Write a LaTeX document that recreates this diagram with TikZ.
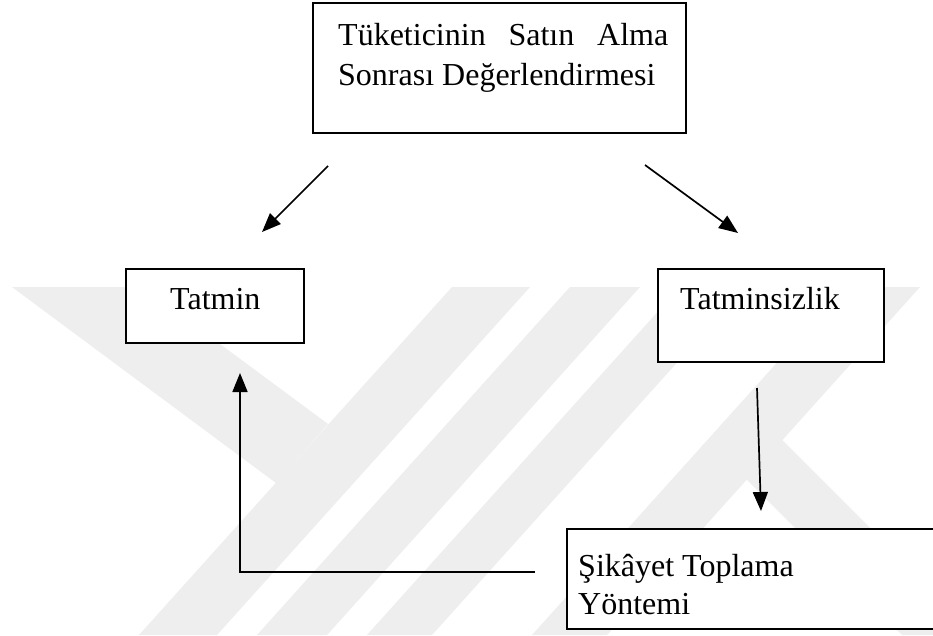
\documentclass[tikz,border=0pt]{standalone}
\usepackage{fontspec}
\setmainfont{Liberation Serif}
\usetikzlibrary{arrows.meta}

\definecolor{mark}{gray}{0.935}

\tikzset{
  box/.style={draw=black, line width=2pt, fill=white, inner sep=0pt},
  spot/.style={inner sep=0pt},
  rim/.style={draw=black, line width=2pt},
  label/.style={inner sep=0pt, anchor=base west, font=\fontsize{32}{40}\selectfont},
  link/.style={draw=black, line width=1.7pt, -{Triangle[length=19pt,width=15pt]}},
  stripe/.style={fill=mark, draw=none}
}

\begin{document}
\begin{tikzpicture}[x=1pt, y=-1pt]
  \useasboundingbox (0,0) rectangle (933,635);
  \fill[white] (0,0) rectangle (933,635);

  % faint background emblem made of slanted stripes
  \begin{scope}
    \clip (0,287) rectangle (933,635);
    \fill[stripe] (12,287) -- (143,287) -- (328,424) -- (276,483) -- cycle;
    \fill[stripe] (452,287) -- (530,287) -- (217,635) -- (139,635) -- cycle;
    \fill[stripe] (570,287) -- (640,287) -- (327,635) -- (257,635) -- cycle;
    \fill[stripe] (680,287) -- (745,287) -- (432,635) -- (367,635) -- cycle;
    \fill[stripe] (845,287) -- (920,287) -- (607,635) -- (532,635) -- cycle;
    \fill[stripe] (782,440) -- (977,635) -- (902,635) -- (746.6,479.6) -- cycle;
  \end{scope}

  % boxes
  \node[box, minimum width=373pt, minimum height=130pt] (top) at (499.5,68) {};
  \node[box, minimum width=178pt, minimum height=74pt] (sat) at (215,306) {};
  \node[box, minimum width=226pt, minimum height=93pt] (unsat) at (771,315.5) {};

  % the lower box runs off the right edge: only its top, left and bottom sides show
  \coordinate (compNW) at (567,529);
  \coordinate (compSW) at (567,629);
  \coordinate (compNE) at (933,529);
  \coordinate (compSE) at (933,629);
  \fill[white] (compNW) rectangle (compSE);
  \draw[rim] (compNW) -- (compNE);
  \draw[rim] (compSW) -- (compSE);
  \draw[rim] (567,528) -- (567,630);
  \node[spot, minimum width=366pt, minimum height=100pt, anchor=west] (comp) at (567,579) {};

  % texts
  \node[label] (topA) at (338,45) {\makebox[330pt][s]{Tüketicinin\hfill Satın\hfill Alma}};
  \node[label] (topB) at (338,85) {Sonrası Değerlendirmesi};
  \node[label] (satT) at (170,309) {Tatmin};
  \node[label] (unsatT) at (680,309) {Tatminsizlik};
  \node[label] (compA) at (578,576) {Şikâyet Toplama};
  \node[label] (compB) at (578,614) {Yöntemi};

  % arrow end points
  \coordinate (l1) at (328,166);
  \coordinate (l2) at (262,232);
  \coordinate (r1) at (645,165);
  \coordinate (r2) at (738,233);
  \coordinate (d1) at (757,388);
  \coordinate (d2) at (761,511);
  \coordinate (f1) at (535,572);
  \coordinate (f2) at (240,572);
  \coordinate (f3) at (240,373);

  \draw[link] (l1) -- (l2);
  \draw[link] (r1) -- (r2);
  \draw[link] (d1) -- (d2);
  \draw[link] (f1) -- (f2) -- (f3);
\end{tikzpicture}
\end{document}
